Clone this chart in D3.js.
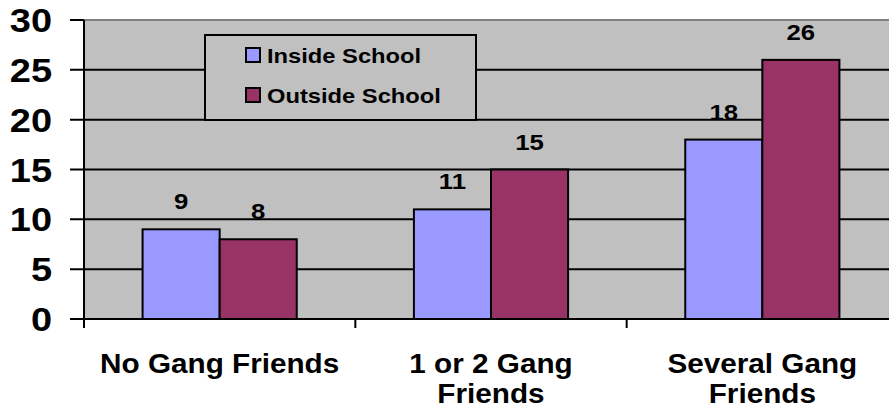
<!DOCTYPE html>
<html>
<head>
<meta charset="utf-8">
<script src="https://cdn.jsdelivr.net/npm/d3@7"></script>
<style>
  html, body { margin: 0; padding: 0; background: #fff; }
  svg { display: block; }
  text { font-family: "Liberation Sans", Arial, sans-serif; font-weight: bold; fill: #000; }
</style>
</head>
<body>
<svg id="chart" width="889" height="414"></svg>
<script>
// Survey results: gang activity reported inside vs outside school
const categories = ["No Gang Friends", "1 or 2 Gang Friends", "Several Gang Friends"];
const seriesNames = ["Inside School", "Outside School"];
const insideSchool = [9, 11, 18];
const outsideSchool = [8, 15, 26];
const yTicks = [0, 5, 10, 15, 20, 25, 30];
const colors = ["#9999ff", "#993366"];

const seriesValues = [insideSchool, outsideSchool];
const svg = d3.select("#chart");

const plot = { left: 84, right: 898, top: 20, bottom: 319 };
const W = 889;
const stretch = 1.12; // horizontal widening of the type

const y = d3.scaleLinear().domain([0, 30]).range([plot.bottom, plot.top]);
const x0 = d3.scaleBand().domain(categories).range([plot.left, plot.right]).paddingInner(0).paddingOuter(0);
const x1 = d3.scaleBand().domain(seriesNames).range([0, x0.bandwidth()]).paddingInner(0).paddingOuter(0.76);

function label(sel, px, py, size, anchor, sx) {
  return sel.append("text")
    .attr("transform", `translate(${px},${py}) scale(${sx},1)`)
    .attr("text-anchor", anchor)
    .style("font-size", size + "px");
}

// plot background
svg.append("rect")
  .attr("x", plot.left).attr("y", plot.top)
  .attr("width", W - plot.left).attr("height", plot.bottom - plot.top)
  .attr("fill", "#c0c0c0");

// top border of the plot area
svg.append("line")
  .attr("x1", plot.left).attr("x2", W)
  .attr("y1", y(30)).attr("y2", y(30))
  .attr("stroke", "#808080").attr("stroke-width", 2);

// horizontal gridlines with tick stubs on the left
yTicks.filter(t => t > 0 && t < 30).forEach(t => {
  svg.append("line")
    .attr("x1", plot.left - 14).attr("x2", W)
    .attr("y1", y(t)).attr("y2", y(t))
    .attr("stroke", "#000").attr("stroke-width", 2);
});
[0, 30].forEach(t => {
  svg.append("line")
    .attr("x1", plot.left - 14).attr("x2", plot.left)
    .attr("y1", y(t)).attr("y2", y(t))
    .attr("stroke", "#000").attr("stroke-width", 2);
});

// y tick labels
yTicks.forEach(t => {
  label(svg, 52, y(t) + 12, 33, "end", 1.15).text(t);
});

// bars
categories.forEach((c, i) => {
  seriesNames.forEach((s, j) => {
    const v = seriesValues[j][i];
    const bx = x0(c) + x1(s);
    svg.append("rect")
      .attr("x", bx).attr("y", y(v))
      .attr("width", x1.bandwidth()).attr("height", y(0) - y(v))
      .attr("fill", colors[j])
      .attr("stroke", "#000").attr("stroke-width", 2);
    label(svg, bx + x1.bandwidth() / 2, y(v) - 20, 23, "middle", stretch).text(v);
  });
});

// x axis line and ticks
svg.append("line")
  .attr("x1", plot.left).attr("x2", W)
  .attr("y1", y(0)).attr("y2", y(0))
  .attr("stroke", "#000").attr("stroke-width", 2);
svg.append("line")
  .attr("x1", plot.left).attr("x2", plot.left)
  .attr("y1", plot.top).attr("y2", y(0) + 9)
  .attr("stroke", "#000").attr("stroke-width", 2);
categories.forEach((c, i) => {
  if (i === 0) return;
  svg.append("line")
    .attr("x1", x0(c)).attr("x2", x0(c))
    .attr("y1", y(0)).attr("y2", y(0) + 9)
    .attr("stroke", "#000").attr("stroke-width", 2);
});

// category labels, wrapped to the band width
const catSize = 27, catStretch = 1.1, lineGap = 30;
categories.forEach(c => {
  const cx = x0(c) + x0.bandwidth() / 2;
  const words = c.split(" ");
  const lines = [];
  let cur = [];
  const probe = svg.append("text").style("font-size", catSize + "px");
  words.forEach(w => {
    const test = cur.concat(w).join(" ");
    probe.text(test);
    if (cur.length && probe.node().getComputedTextLength() * catStretch > x0.bandwidth() - 10) {
      lines.push(cur.join(" "));
      cur = [w];
    } else {
      cur.push(w);
    }
  });
  lines.push(cur.join(" "));
  probe.remove();
  lines.forEach((ln, k) => {
    label(svg, cx, 373 + k * lineGap, catSize, "middle", catStretch).text(ln);
  });
});

// legend
const lg = svg.append("g");
lg.append("rect")
  .attr("x", 205).attr("y", 35).attr("width", 271).attr("height", 85)
  .attr("fill", "#c0c0c0").attr("stroke", "#000").attr("stroke-width", 2);
seriesNames.forEach((s, j) => {
  const ly = 48 + j * 40;
  lg.append("rect")
    .attr("x", 246).attr("y", ly).attr("width", 14).attr("height", 14)
    .attr("fill", colors[j]).attr("stroke", "#000").attr("stroke-width", 2);
  label(lg, 267, ly + 15, 21, "start", 1.13).text(s);
});
</script>
</body>
</html>
